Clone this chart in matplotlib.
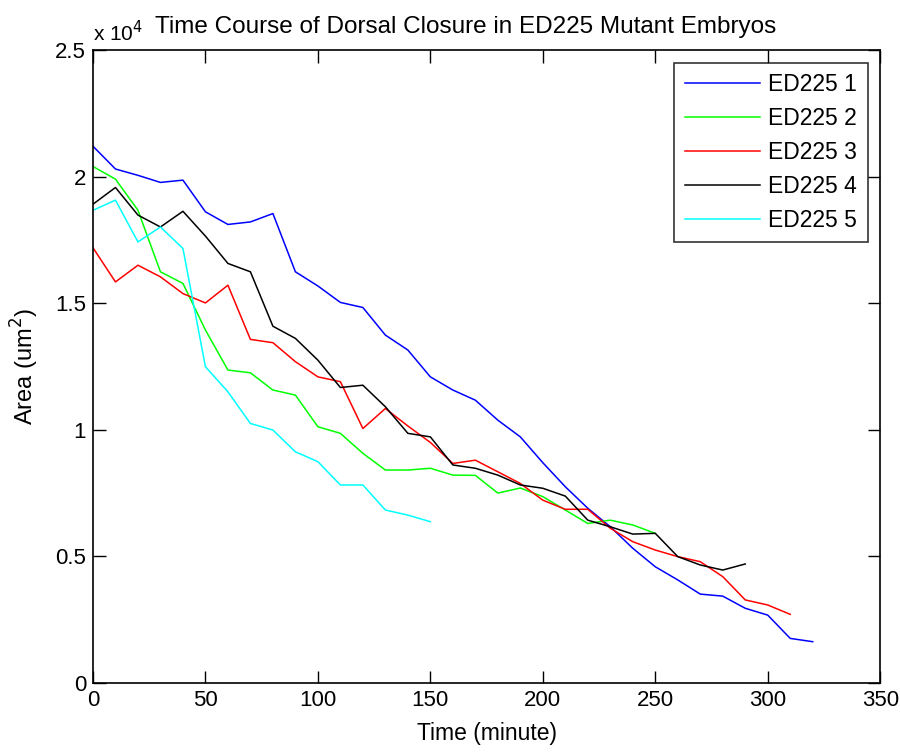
import matplotlib
matplotlib.use('Agg')
import matplotlib.pyplot as plt
from matplotlib.ticker import FuncFormatter, MultipleLocator

plt.rcParams['font.family'] = ['Liberation Sans', 'DejaVu Sans']

# time points (minutes), every 10 min
step = 10

# area values (um^2)
ed1 = [21200, 20300, 20050, 19770, 19860, 18610, 18110, 18210, 18540, 16240,
       15680, 15030, 14830, 13740, 13150, 12090, 11570, 11170, 10380, 9720,
       8700, 7750, 6900, 6170, 5320, 4590, 4070, 3510, 3430, 2950, 2680, 1760, 1630]
ed2 = [20400, 19900, 18670, 16240, 15780, 13940, 12360, 12250, 11570, 11370,
       10120, 9860, 9070, 8410, 8410, 8480, 8210, 8200, 7500, 7700,
       7360, 6830, 6300, 6430, 6240, 5910]
ed3 = [17190, 15840, 16500, 16040, 15380, 15010, 15710, 13570, 13440, 12690,
       12090, 11900, 10050, 10840, 10150, 9500, 8670, 8800, 8340, 7880,
       7220, 6860, 6860, 6110, 5580, 5250, 4990, 4790, 4200, 3280, 3080, 2710]
ed4 = [18910, 19570, 18480, 18010, 18630, 17650, 16570, 16240, 14090, 13610,
       12750, 11670, 11760, 10910, 9860, 9720, 8610, 8480, 8210, 7820,
       7690, 7380, 6430, 6170, 5880, 5910, 4990, 4660, 4460, 4700]
ed5 = [18670, 19070, 17420, 18010, 17160, 12490, 11500, 10250, 9990, 9130,
       8740, 7820, 7820, 6830, 6630, 6370]

series = [ed1, ed2, ed3, ed4, ed5]
labels = ['ED225 1', 'ED225 2', 'ED225 3', 'ED225 4', 'ED225 5']
colors = ['#0000ff', '#00ff00', '#ff0000', '#000000', '#00ffff']

fig = plt.figure(figsize=(9, 7.52), dpi=100)
ax = fig.add_axes([0.1033, 0.0918, 0.8747, 0.8417])

for vals, lab, col in zip(series, labels, colors):
    t = [i * step for i in range(len(vals))]
    ax.plot(t, vals, color=col, lw=1.1, label=lab)

ax.set_xlim(0, 350)
ax.set_ylim(0, 25000)
ax.xaxis.set_major_locator(MultipleLocator(50))
ax.yaxis.set_major_locator(MultipleLocator(5000))
ax.yaxis.set_major_formatter(FuncFormatter(lambda v, p: '%g' % (v / 1e4)))
ax.tick_params(direction='in', top=True, right=True, length=9, width=1.0,
               labelsize=16, pad=5)
for s in ax.spines.values():
    s.set_linewidth(1.2)

ax.text(0.0, 1.008, r'x 10$^4$', transform=ax.transAxes, fontsize=15,
        ha='left', va='bottom')
ax.set_title('Time Course of Dorsal Closure in ED225 Mutant Embryos',
             fontsize=17.5, pad=12, x=0.474)
ax.set_xlabel('Time (minute)', fontsize=16.5, labelpad=8)
ax.set_ylabel(r'Area (um$^2$)', fontsize=17, labelpad=10)

leg = ax.legend(loc='upper right', fontsize=16.5, frameon=True, fancybox=False,
                edgecolor='black', borderaxespad=0.55, handlelength=3.3,
                labelspacing=0.48, borderpad=0.45, handletextpad=0.35)
leg.get_frame().set_linewidth(1.2)

fig.savefig('out.png', dpi=100)
